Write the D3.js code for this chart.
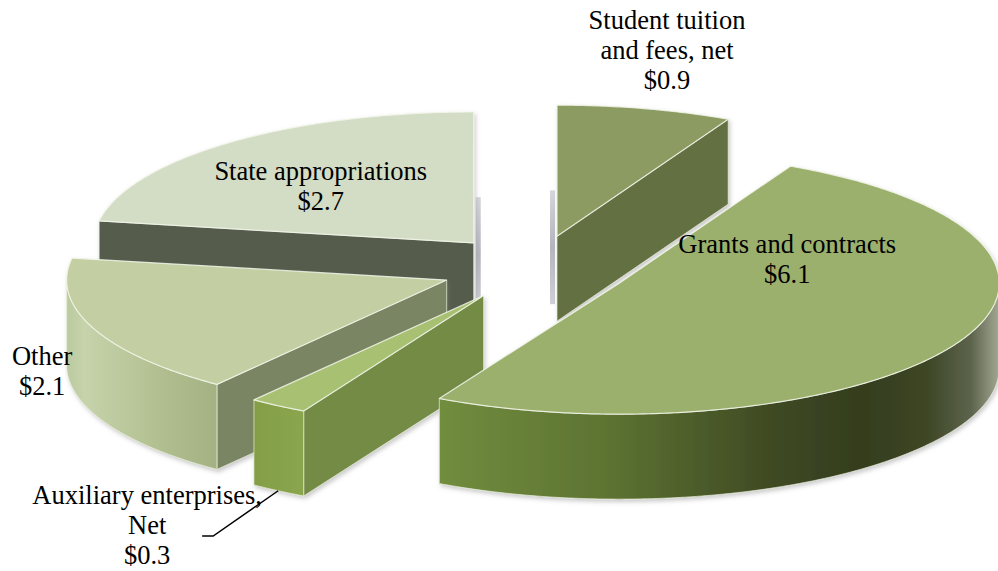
<!DOCTYPE html>
<html><head><meta charset="utf-8">
<script src="https://cdn.jsdelivr.net/npm/d3@7"></script>
<style>body{margin:0;background:#fff}svg{display:block}</style>
</head><body>
<svg id="chart" width="998" height="571"></svg>
<script>
// ---- data ----
const categories = ["Student tuition and fees, net", "Grants and contracts", "Auxiliary enterprises, Net", "Other", "State appropriations"];
const values = [0.9, 6.1, 0.3, 2.1, 2.7];
const labelLines = [["Student tuition", "and fees, net"], ["Grants and contracts"], ["Auxiliary enterprises,", "Net"], ["Other"], ["State appropriations"]];
const valueLabels = values.map(v => "$" + d3.format(".1f")(v));

// ---- styles / layout ----
const topColors = ["#8c9b62", "#9bb06d", "#a8c072", "#c3cfa3", "#d3dcc4"];
const cutColors = ["#647043", "#5a6a33", "#738b45", "#7a8563", "#545b4b"];
const sideStops = [
  [[0, "#7d8c55"], [1, "#6e7c48"]],
  [[0, "#718d3e"], [0.3, "#5d7332"], [0.6, "#3e4923"], [0.75, "#343d1e"], [0.87, "#3d4625"], [0.95, "#5d644c"], [1, "#a3a893"]],
  [[0, "#839e46"], [1, "#8aa64e"]],
  [[0, "#bccaa0"], [0.12, "#c6d3ab"], [0.6, "#b2c091"], [1, "#a4b283"]],
  [[0, "#c0c9b0"], [1, "#b0b9a0"]]
];
// label anchor offsets (from each slice centre): [dx, dy of first baseline]
const labelOffsets = [[110, -207], [168, -30], [-336.5, 208.5], [-404.5, 85], [-153, -63]];
const W = 998, H = 571;
const C = [535, 268];
const RX = 380, RY = 131, DEPTH = 85, EXPLODE = 0.25;
const FONT = "'Liberation Serif','Times New Roman',serif";
const LINE_H = 30;

const svg = d3.select("#chart");
const defs = svg.append("defs");
const flt = defs.append("filter").attr("id", "shadow")
  .attr("x", "-10%").attr("y", "-10%").attr("width", "125%").attr("height", "125%");
flt.append("feDropShadow").attr("dx", 1.5).attr("dy", 2.5).attr("stdDeviation", 2)
  .attr("flood-color", "#7a7a7a").attr("flood-opacity", 0.4);
const sliverGrad = defs.append("linearGradient").attr("id", "sliver").attr("x1", 0).attr("x2", 0).attr("y1", 0).attr("y2", 1);
sliverGrad.append("stop").attr("offset", 0).attr("stop-color", "#d6d7dc");
sliverGrad.append("stop").attr("offset", 0.5).attr("stop-color", "#b4b5bd");
sliverGrad.append("stop").attr("offset", 1).attr("stop-color", "#cfd0d6");

function P(c, t, r, z) { return [c[0] + r * RX * Math.sin(t), c[1] - r * RY * Math.cos(t) + (z || 0)]; }
function arcPts(c, t0, t1, z) {
  const n = Math.max(2, Math.ceil(Math.abs(t1 - t0) / 0.01));
  return d3.range(n + 1).map(i => P(c, t0 + (t1 - t0) * i / n, 1, z));
}
const line = d3.line();

const pie = d3.pie().sort(null).startAngle(0).endAngle(2 * Math.PI);
const arcs = pie(values);

const slices = arcs.map((a, i) => {
  const mid = (a.startAngle + a.endAngle) / 2;
  const c = P(C, mid, EXPLODE, 0);
  const rim = arcPts(c, a.startAngle, a.endAngle, 0);
  const key = d3.max(rim.concat([c]), p => p[1]);
  return { i, a1: a.startAngle, a2: a.endAngle, mid, c, key };
});

const layer = svg.append("g");
slices.slice().sort((a, b) => a.key - b.key).forEach(s => {
  const i = s.i;
  // perspective slivers of edge-on cut faces
  [[s.a1, s.a1 - Math.PI / 2], [s.a2, s.a2 + Math.PI / 2]].forEach(([a, nrm]) => {
    if (Math.abs(Math.cos(nrm)) < 0.02) {
      const sign = Math.sin(nrm) > 0 ? 1 : -1;
      const x0 = s.c[0] + sign * 2, x1 = s.c[0] + sign * 7;
      layer.append("rect")
        .attr("x", Math.min(x0, x1)).attr("width", 5)
        .attr("y", s.c[1] - 0.35 * RY).attr("height", 0.35 * RY + DEPTH * 0.8)
        .attr("fill", "url(#sliver)");
    }
  });
  const g = layer.append("g").attr("filter", "url(#shadow)");
  // radial cut faces
  [[s.a1, s.a1 - Math.PI / 2], [s.a2, s.a2 + Math.PI / 2]].forEach(([a, nrm]) => {
    if (Math.cos(nrm) < -0.02) {
      const r = P(s.c, a, 1, 0);
      const pts = [s.c, r, [r[0], r[1] + DEPTH], [s.c[0], s.c[1] + DEPTH]];
      g.append("path").attr("d", line(pts) + "Z")
        .attr("fill", cutColors[i])
        .attr("stroke", "#e8eedc").attr("stroke-opacity", 0.7).attr("stroke-width", 1)
        .attr("stroke-linejoin", "round");
    }
  });
  // outer curved side (front half only)
  const s0 = Math.max(s.a1, Math.PI / 2), s1 = Math.min(s.a2, 3 * Math.PI / 2);
  if (s1 > s0) {
    const topA = arcPts(s.c, s0, s1, 0);
    const botA = arcPts(s.c, s1, s0, DEPTH);
    const all = topA.concat(botA);
    const xs = d3.extent(all, p => p[0]);
    const gid = "side" + i;
    const lg = defs.append("linearGradient").attr("id", gid)
      .attr("gradientUnits", "userSpaceOnUse")
      .attr("x1", xs[0]).attr("x2", xs[1]).attr("y1", 0).attr("y2", 0);
    sideStops[i].forEach(([o, col]) => lg.append("stop").attr("offset", o).attr("stop-color", col));
    g.append("path").attr("d", line(all) + "Z")
      .attr("fill", "url(#" + gid + ")")
      .attr("stroke", "#e8eedc").attr("stroke-opacity", 0.7).attr("stroke-width", 1)
      .attr("stroke-linejoin", "round");
  }
  // top face
  const topPts = [s.c].concat(arcPts(s.c, s.a1, s.a2, 0));
  g.append("path").attr("d", line(topPts) + "Z")
    .attr("fill", topColors[i])
    .attr("stroke", "#f2f6ea").attr("stroke-opacity", 0.85).attr("stroke-width", 1.2)
    .attr("stroke-linejoin", "round");
});

// labels
const labelG = svg.append("g").attr("font-family", FONT).attr("font-size", "26.5px")
  .attr("fill", "#000").attr("text-anchor", "middle");
slices.forEach(s => {
  const i = s.i;
  const ax = s.c[0] + labelOffsets[i][0], ay = s.c[1] + labelOffsets[i][1];
  const lines = labelLines[i].concat([valueLabels[i]]);
  const t = labelG.append("text").attr("x", ax).attr("y", ay);
  lines.forEach((ln, k) => {
    t.append("tspan").attr("x", ax).attr("y", ay + k * LINE_H).text(ln);
  });
  if (labelLines[i].length > 1 && values[i] / d3.sum(values) < 0.05) {
    // leader line for the small slice
    const end = P(s.c, s.mid, 1, DEPTH);
    const pts = [[ax + 55, ay + 32], [ax + 66, ay + 32], end];
    svg.append("path").attr("d", line(pts)).attr("fill", "none")
      .attr("stroke", "#000").attr("stroke-width", 1.5);
  }
});
</script>
</body></html>
